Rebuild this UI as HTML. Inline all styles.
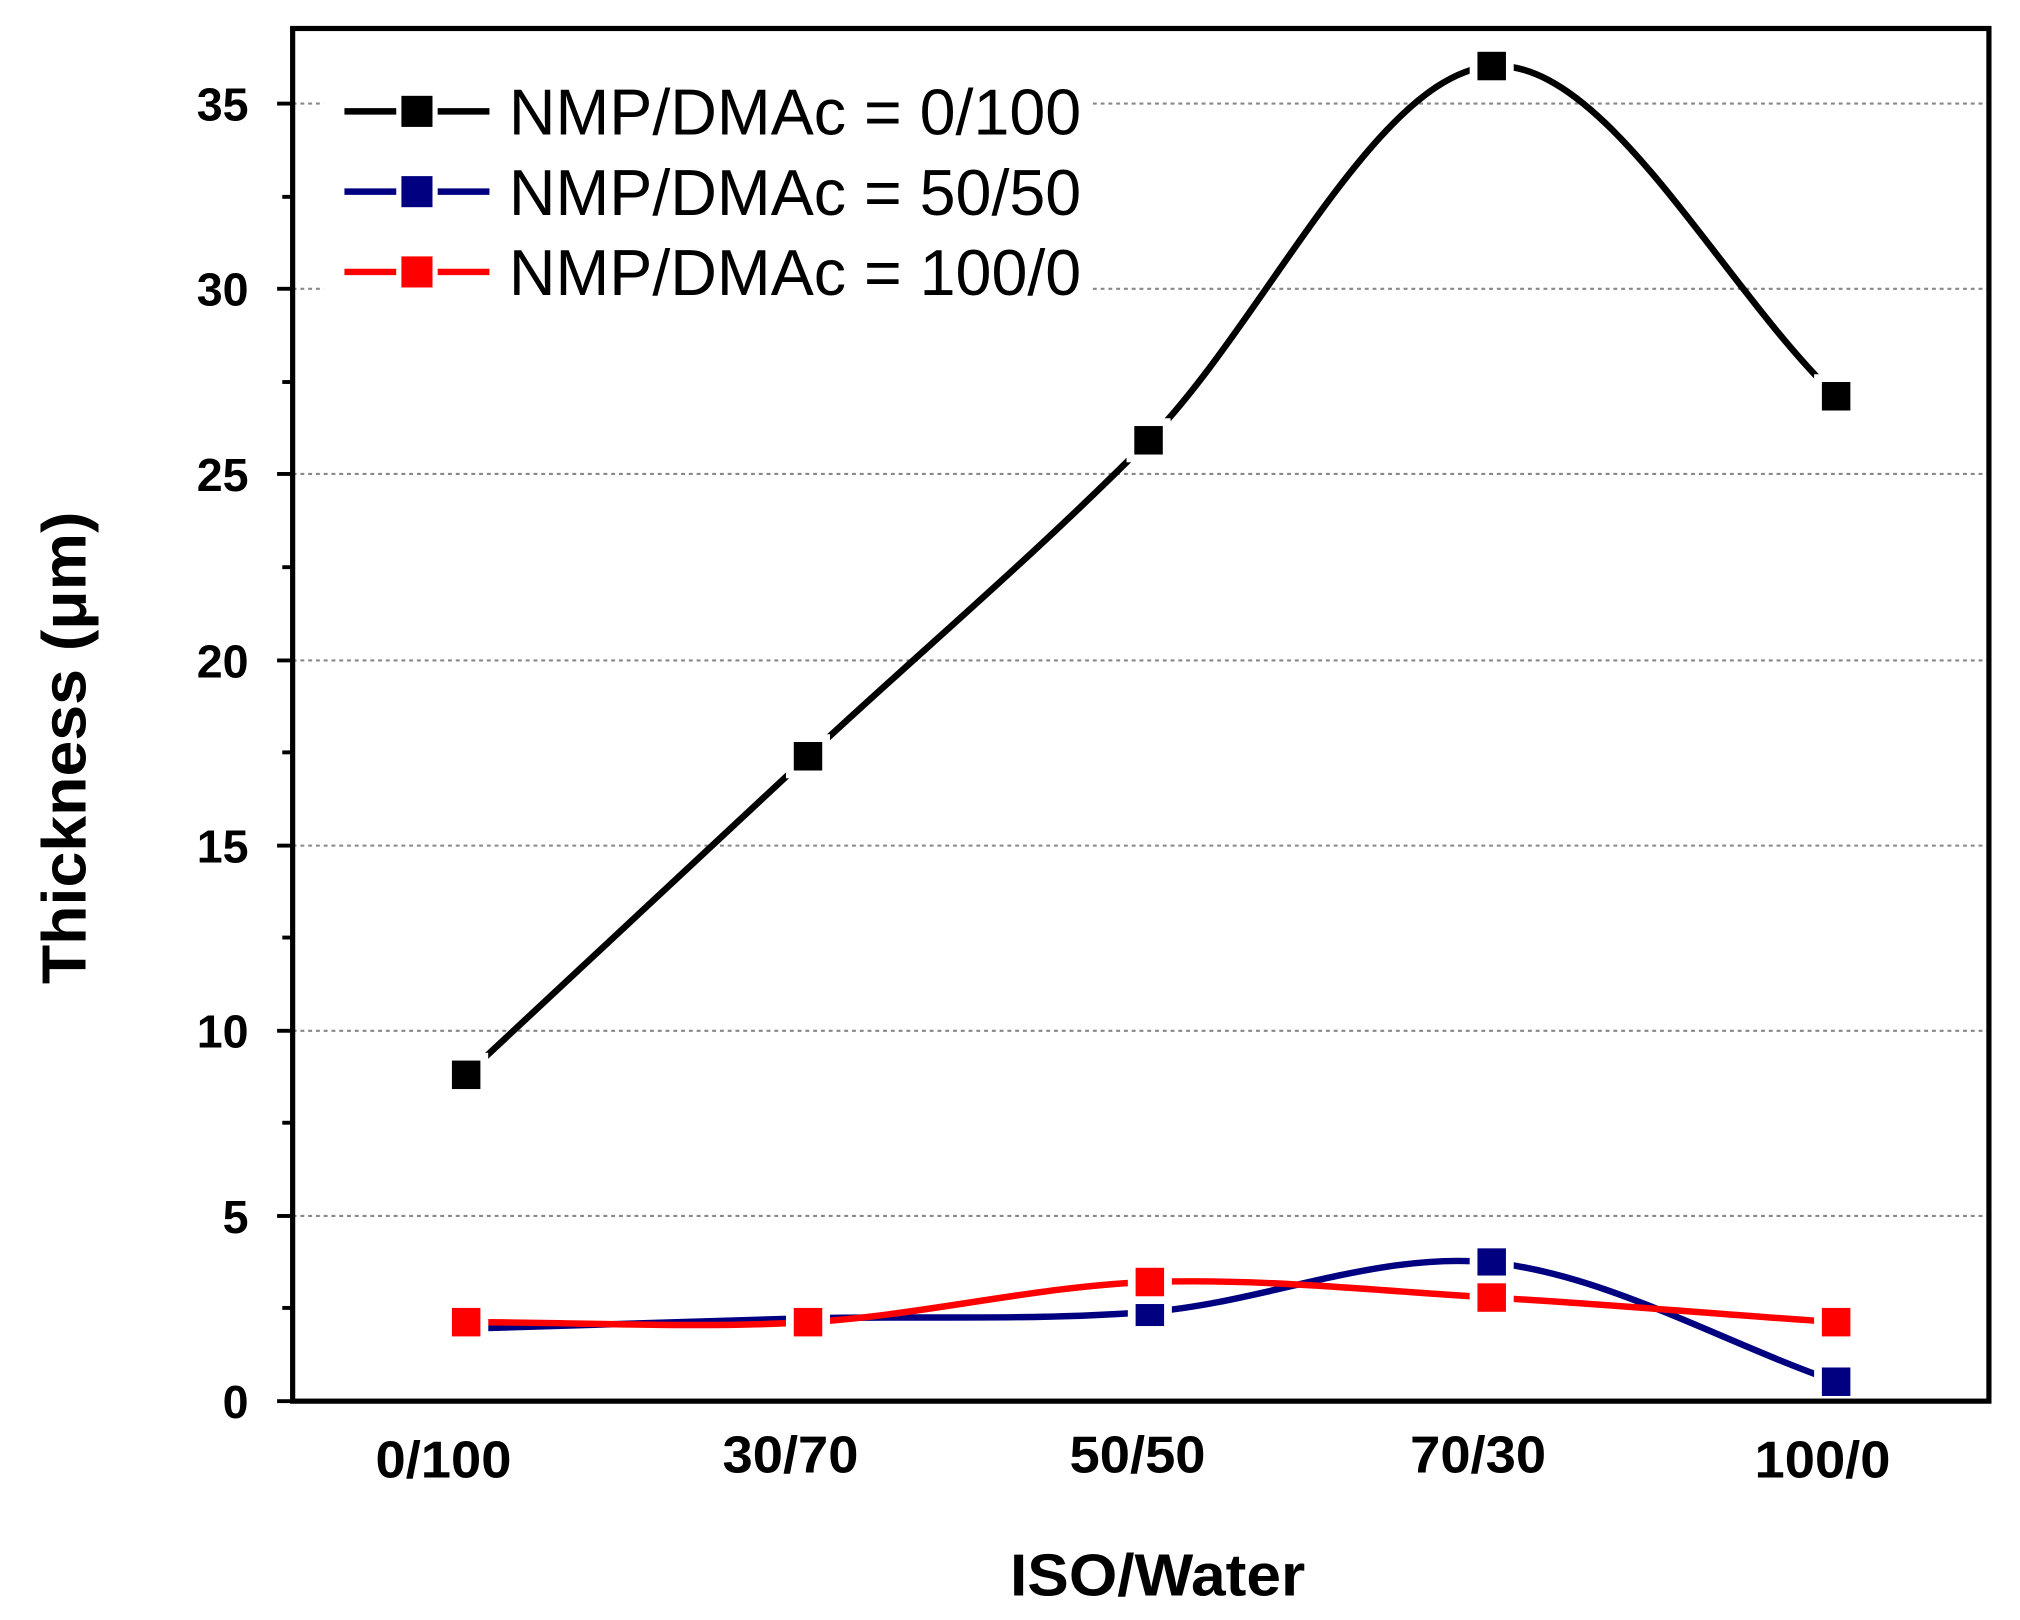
<!DOCTYPE html>
<html><head><meta charset="utf-8"><style>
html,body{margin:0;padding:0;background:#fff;}
svg{display:block;}
text{font-family:"Liberation Sans Narrow","Liberation Sans",sans-serif;}
</style></head><body>
<svg width="2020" height="1620" viewBox="0 0 1560 1251" preserveAspectRatio="none" xmlns="http://www.w3.org/2000/svg">
<rect width="1560" height="1251" fill="#fff"/>
<g stroke="#888" stroke-width="1.6" stroke-dasharray="3,3">
<line x1="226" x2="1536" y1="939" y2="939"/>
<line x1="226" x2="1536" y1="796" y2="796"/>
<line x1="226" x2="1536" y1="653" y2="653"/>
<line x1="226" x2="1536" y1="510" y2="510"/>
<line x1="226" x2="1536" y1="366" y2="366"/>
<line x1="226" x2="1536" y1="223" y2="223"/>
<line x1="226" x2="1536" y1="80" y2="80"/>
</g>
<g stroke="#000" stroke-width="3">
<line x1="214" x2="226" y1="1082" y2="1082"/>
<line x1="214" x2="226" y1="939" y2="939"/>
<line x1="214" x2="226" y1="796" y2="796"/>
<line x1="214" x2="226" y1="653" y2="653"/>
<line x1="214" x2="226" y1="510" y2="510"/>
<line x1="214" x2="226" y1="366" y2="366"/>
<line x1="214" x2="226" y1="223" y2="223"/>
<line x1="214" x2="226" y1="80" y2="80"/>
<line x1="218" x2="226" y1="1010" y2="1010"/>
<line x1="218" x2="226" y1="867" y2="867"/>
<line x1="218" x2="226" y1="724" y2="724"/>
<line x1="218" x2="226" y1="581" y2="581"/>
<line x1="218" x2="226" y1="438" y2="438"/>
<line x1="218" x2="226" y1="295" y2="295"/>
<line x1="218" x2="226" y1="152" y2="152"/>
</g>
<rect x="250" y="55" width="592" height="180" fill="#fff"/>
<g fill="none" stroke-width="5">
<path stroke="#000" d="M360,830 C448,748 536,666 624,584 C712,502 799,429 887,340 C975,251 1063,57 1152,51 C1240,45 1329,221 1418,306"/>
<path stroke="#000080" d="M360,1026 C448,1023 536,1020 624,1018 C712,1016 800,1020 888,1013 C976,1006 1064,966 1152,975 C1240,984 1329,1036 1418,1067"/>
<path stroke="#f00" d="M360,1021 C448,1021 536,1026 624,1021 C712,1016 800,993 888,990 C976,987 1064,997 1152,1002 C1240,1007 1329,1015 1418,1021"/>
</g>
<g stroke="#fff" stroke-width="6">
<g fill="#000">
<rect x="346" y="816" width="28" height="28"/><rect x="610" y="570" width="28" height="28"/><rect x="873" y="326" width="28" height="28"/><rect x="1138" y="37" width="28" height="28"/><rect x="1404" y="292" width="28" height="28"/>
</g>
<g fill="#000080">
<rect x="346" y="1012" width="28" height="28"/><rect x="610" y="1004" width="28" height="28"/><rect x="874" y="999" width="28" height="28"/><rect x="1138" y="961" width="28" height="28"/><rect x="1404" y="1053" width="28" height="28"/>
</g>
<g fill="#f00">
<rect x="346" y="1007" width="28" height="28"/><rect x="610" y="1007" width="28" height="28"/><rect x="874" y="976" width="28" height="28"/><rect x="1138" y="988" width="28" height="28"/><rect x="1404" y="1007" width="28" height="28"/>
</g>
</g>
<line x1="266" x2="378" y1="86" y2="86" stroke="#000" stroke-width="5"/>
<line x1="266" x2="378" y1="148" y2="148" stroke="#000080" stroke-width="5"/>
<line x1="266" x2="378" y1="210" y2="210" stroke="#f00" stroke-width="5"/>
<g stroke="#fff" stroke-width="4">
<rect x="308" y="72" width="28" height="28" fill="#000"/>
<rect x="308" y="134" width="28" height="28" fill="#000080"/>
<rect x="308" y="196" width="28" height="28" fill="#f00"/>
</g>
<g font-size="50" fill="#000">
<text x="393" y="104" textLength="442" lengthAdjust="spacingAndGlyphs">NMP/DMAc = 0/100</text>
<text x="393" y="166" textLength="442" lengthAdjust="spacingAndGlyphs">NMP/DMAc = 50/50</text>
<text x="393" y="228" textLength="442" lengthAdjust="spacingAndGlyphs">NMP/DMAc = 100/0</text>
</g>
<rect x="226" y="22" width="1310" height="1060" fill="none" stroke="#000" stroke-width="4"/>
<g font-size="36" font-weight="bold" text-anchor="end" fill="#000">
<text x="192" y="1095">0</text>
<text x="192" y="952">5</text>
<text x="192" y="809">10</text>
<text x="192" y="666">15</text>
<text x="192" y="523">20</text>
<text x="192" y="379">25</text>
<text x="192" y="236">30</text>
<text x="192" y="93">35</text>
</g>
<g font-size="40" font-weight="bold" fill="#000">
<text x="290" y="1141" textLength="105" lengthAdjust="spacingAndGlyphs">0/100</text>
<text x="558" y="1137" textLength="105" lengthAdjust="spacingAndGlyphs">30/70</text>
<text x="826" y="1137" textLength="105" lengthAdjust="spacingAndGlyphs">50/50</text>
<text x="1089" y="1137" textLength="105" lengthAdjust="spacingAndGlyphs">70/30</text>
<text x="1355" y="1141" textLength="105" lengthAdjust="spacingAndGlyphs">100/0</text>
</g>
<text x="780" y="1232" font-size="46" font-weight="bold" textLength="228" lengthAdjust="spacingAndGlyphs">ISO/Water</text>
<text transform="translate(66,760) rotate(-90)" font-size="48" font-weight="bold" textLength="365" lengthAdjust="spacingAndGlyphs">Thickness (μm)</text>
</svg>
</body></html>
